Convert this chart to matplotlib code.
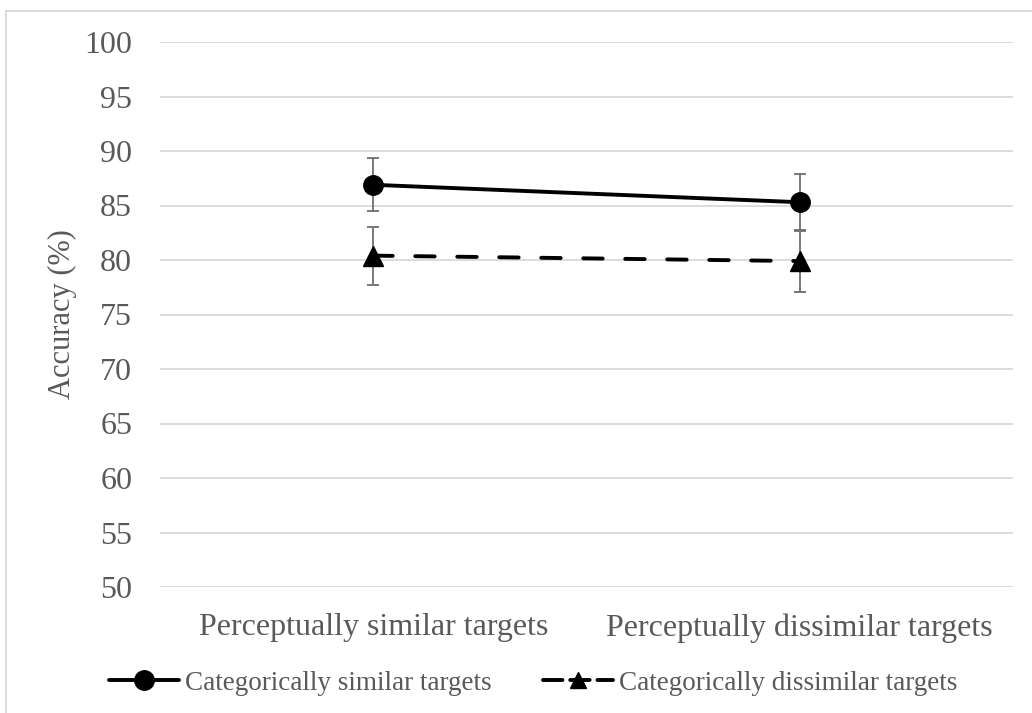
import numpy as np
import matplotlib.pyplot as plt
from matplotlib.lines import Line2D

plt.rcParams['font.family'] = ['Liberation Serif', 'DejaVu Serif']

conditions = ["Perceptually similar targets", "Perceptually dissimilar targets"]
series_names = ["Categorically similar targets", "Categorically dissimilar targets"]
cat_similar = [86.9, 85.3]
cat_similar_err = [2.45, 2.55]
cat_dissimilar = [80.4, 79.9]
cat_dissimilar_err = [2.65, 2.8]

text_grey = "#595959"
grid_grey = "#d9d9d9"
err_grey = "#6e6e6e"

fig = plt.figure(figsize=(10.32, 7.13), dpi=100)
ax = fig.add_axes([160 / 1032, 1 - 587 / 713, (1013 - 160) / 1032, (587 - 42) / 713])

x = np.arange(len(conditions))

ax.errorbar(x, cat_similar, yerr=cat_similar_err, fmt='none', ecolor=err_grey,
            elinewidth=1.3, capsize=4.3, capthick=1.3, zorder=2)
ax.errorbar(x, cat_dissimilar, yerr=cat_dissimilar_err, fmt='none', ecolor=err_grey,
            elinewidth=1.3, capsize=4.3, capthick=1.3, zorder=2)

ax.plot(x, cat_similar, color='black', linewidth=2.8, marker='o', markersize=14,
        zorder=3, solid_capstyle='round')
ax.plot(x, cat_dissimilar, color='black', linewidth=2.8, linestyle=(0, (5.0, 5.8)),
        marker='^', markersize=14, zorder=3, dash_capstyle='round')

ax.set_xlim(-0.5, 1.5)
ax.set_ylim(50, 100)
ax.set_yticks(np.arange(50, 101, 5))
ax.set_xticks(x)
ax.set_xticklabels(conditions)
ax.tick_params(axis='both', length=0, labelsize=23, colors=text_grey)
ax.tick_params(axis='y', pad=20)
ax.tick_params(axis='x', pad=19)
ax.yaxis.grid(True, color=grid_grey, linewidth=1.3)
ax.set_axisbelow(True)
for side in ax.spines.values():
    side.set_visible(False)

ax.set_ylabel("Accuracy (%)", fontsize=22, color=text_grey, labelpad=5)

handles = [
    Line2D([], [], color='black', linewidth=2.8, marker='o', markersize=14,
           solid_capstyle='round'),
    Line2D([], [], color='black', linewidth=2.8, linestyle=(0, (5.0, 2.0)),
           dash_capstyle='round', marker='^', markersize=11),
]
leg = fig.legend(handles, series_names, loc='center',
                 bbox_to_anchor=(0.5 + 17 / 1032, 1 - 683 / 713),
                 ncol=2, frameon=False, fontsize=19.5, handlelength=2.6,
                 columnspacing=1.9, handletextpad=0.2, labelcolor=text_grey)

# light border round the chart area
fig.add_artist(Line2D([6 / 1032, 1], [1 - 11 / 713] * 2, color=grid_grey, linewidth=1.3))
fig.add_artist(Line2D([6 / 1032] * 2, [0, 1 - 11 / 713], color=grid_grey, linewidth=1.3))

fig.savefig("out.png", dpi=100)
